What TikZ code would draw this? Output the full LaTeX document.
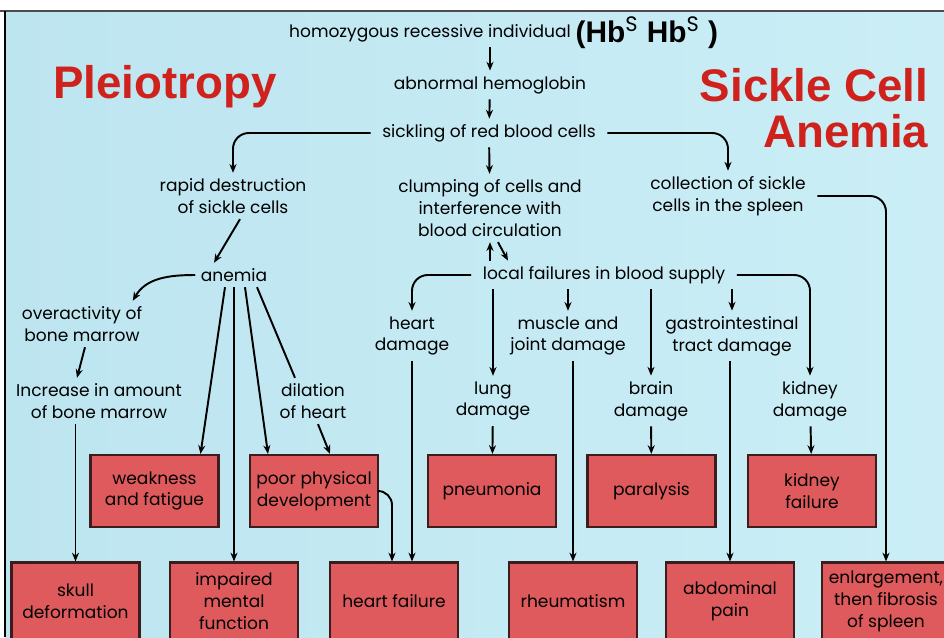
\documentclass[tikz,border=0pt]{standalone}
\usepackage{fontspec}
\setmainfont{Poppins}
\newfontfamily\titlefont{Liberation Sans}
\usetikzlibrary{positioning, calc, arrows.meta}

\definecolor{bgblue}{HTML}{CBEEF6}
\definecolor{bgleft}{HTML}{BDE5F0}
\definecolor{boxred}{HTML}{DE5A5C}
\definecolor{boxline}{HTML}{3C1C1C}
\definecolor{titlered}{HTML}{D0221C}

\begin{document}
\begin{tikzpicture}[x=0.02cm, y=-0.02cm,
    every node/.style={font=\fontsize{9.7}{12.5}\selectfont, align=center, inner sep=3pt},
    effect/.style={draw=boxline, line width=1.2pt, fill=boxred, minimum width=2.56cm, minimum height=1.44cm},
    effectlow/.style={effect, minimum height=1.54cm},
    title/.style={font=\titlefont\fontsize{26}{26}\bfseries\selectfont, text=titlered},
    arr/.style={-{Stealth[length=5pt, width=4pt]}, line width=1.1pt},
    link/.style={line width=1.1pt},
    turnarr/.style={arr, rounded corners=9pt}]

    % frame and background
    \clip (0,0) rectangle (944,637);
    \fill[white] (0,0) rectangle (944,637);
    \shade[left color=bgleft, right color=bgblue] (5,11) rectangle (944,637);
    \draw[line width=1.2pt, black!70] (0,11) -- (944,11);
    \draw[line width=1.2pt] (5,11) -- (5,637);

    \node (pleio) [title] at (165,87) {Pleiotropy};
    \node (sca) [title, align=right, anchor=east] at (934,108) {Sickle Cell\\Anemia};

    \node (hom) at (430,33) {homozygous recessive individual};
    \node (hb) [anchor=west, font=\titlefont\fontsize{17}{20}\bfseries\selectfont] at (570,33) {(Hb$^{\mathrm{S}}$ Hb$^{\mathrm{S}}$ )};
    \node (hemo) at (490,85) {abnormal hemoglobin};
    \node (sickling) at (489,133) {sickling of red blood cells};
    \node (rapid) at (233,196) {rapid destruction\\of sickle cells};
    \node (clumping) at (490,208) {clumping of cells and\\interference with\\blood circulation};
    \node (spleen) at (728,196) {collection of sickle\\cells in the spleen};
    \node (anemia) at (234,275) {anemia};
    \node (local) at (604,275) {local failures in blood supply};
    \node (overact) at (82,324) {overactivity of\\bone marrow};
    \node (marrow) at (99,401) {Increase in amount\\of bone marrow};
    \node (dilation) at (313,401) {dilation\\of heart};
    \node (heartdmg) at (412,336) {heart\\damage};
    \node (muscle) at (568,336) {muscle and\\joint damage};
    \node (gastro) at (732,336) {gastrointestinal\\tract damage};
    \node (lung) at (493,401) {lung\\damage};
    \node (brain) at (651,401) {brain\\damage};
    \node (kidneydmg) at (810,401) {kidney\\damage};

    \node (weak) [effect] at (154.5,491) {weakness\\and fatigue};
    \node (poordev) [effect] at (314,491) {poor physical\\development};
    \node (pneu) [effect] at (492,491) {pneumonia};
    \node (para) [effect] at (651.5,491) {paralysis};
    \node (kidfail) [effect] at (812,491) {kidney\\failure};

    \node (skull) [effectlow] at (75.5,601) {skull\\deformation};
    \node (mental) [effectlow] at (234,601) {impaired\\mental\\function};
    \node (heartfail) [effectlow] at (394,601) {heart failure};
    \node (rheum) [effectlow] at (573,601) {rheumatism};
    \node (abdom) [effectlow] at (730,601) {abdominal\\pain};
    \node (enlarge) [effectlow] at (886,601) {enlargement,\\then fibrosis\\of spleen};

    \draw[arr] (hemo.north |- hom.south) -- (hemo.north);
    \draw[arr] (hemo) -- (sickling);
    \draw[arr] (sickling) -- (clumping);
    \draw[turnarr] ($(sickling.west)+(-6,0)$) -| (rapid.north);
    \draw[turnarr] ($(sickling.east)+(6,0)$) -| (spleen.north);
    \draw[arr] ($(rapid.south)+(7,0)$) -- ($(anemia.north)+(-20,0)$);
    \draw[arr] (anemia.west) to[out=180, in=60] ($(overact.north east)+(-15,0)$);
    \draw[arr] ($(overact.south)+(3,0)$) -- ($(marrow.north)+(-22,0)$);
    \draw[arr] (skull.north |- marrow.south) -- (skull.north);
    \draw[arr] ($(anemia.south)+(-9,0)$) -- ($(weak.north)+(46,0)$);
    \draw[arr] (anemia.south) -- (mental.north);
    \draw[arr] ($(anemia.south)+(11,0)$) -- ($(poordev.north)+(-46,0)$);
    \draw[link] ($(anemia.south)+(23,0)$) -- ($(dilation.north)+(-18,0)$);
    \draw[arr] ($(dilation.south)+(5,0)$) -- ($(poordev.north)+(16,0)$);
    \draw[arr, rounded corners=8pt] (poordev.east) -| ($(heartfail.north)+(-2,0)$);
    \draw[arr] (heartdmg.south) -- (heartdmg.south |- heartfail.north);

    \draw[arr] (clumping.south |- local.north) -- (clumping.south);
    \draw[arr] ($(clumping.south)+(8,0)$) -- ($(clumping.south |- local.north)+(18,0)$);
    \draw[turnarr] ($(local.west)+(-6,0)$) -| (heartdmg.north);
    \draw[arr] (lung.north |- local.south) -- (lung.north);
    \draw[arr] (muscle.north |- local.south) -- (muscle.north);
    \draw[arr] (brain.north |- local.south) -- (brain.north);
    \draw[arr] (gastro.north |- local.south) -- (gastro.north);
    \draw[turnarr] ($(local.east)+(6,0)$) -| (kidneydmg.north);
    \draw[turnarr] ($(spleen.east)+(6,0)$) -| (enlarge.north);

    \draw[arr] (rheum.north |- muscle.south) -- (rheum.north);
    \draw[arr] (abdom.north |- gastro.south) -- (abdom.north);
    \draw[arr] (lung) -- (pneu);
    \draw[arr] (brain) -- (para);
    \draw[arr] (kidneydmg) -- (kidfail);
\end{tikzpicture}
\end{document}
